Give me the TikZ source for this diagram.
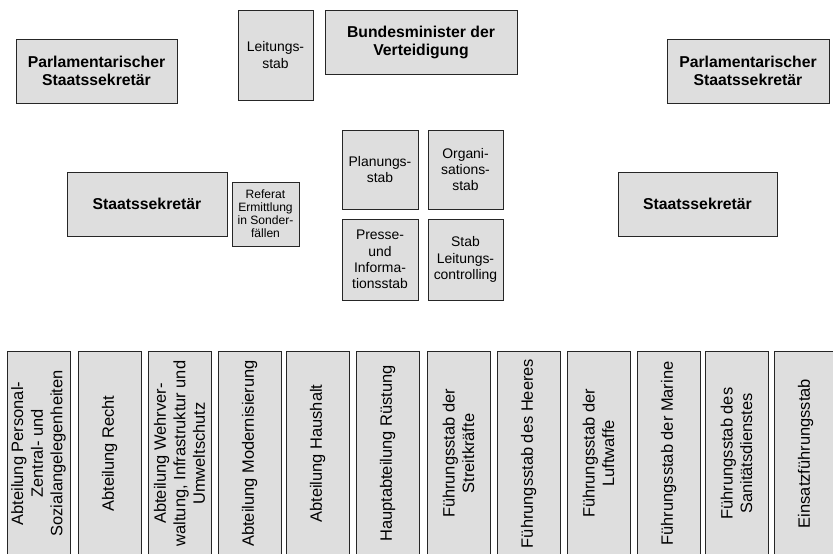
\documentclass[tikz,border=0pt]{standalone}
\usepackage{fontspec}
\setmainfont{Liberation Sans}
\usetikzlibrary{positioning}

\tikzset{
  box/.style={draw=black!85, line width=0.6pt, fill=gray!26, align=center, inner sep=1pt},
  chief/.style={box, font=\bfseries\fontsize{11.2}{12.8}\selectfont},
  staff/.style={box, font=\fontsize{9.9}{11.7}\selectfont},
  dept/.style={box, rotate=90, font=\fontsize{11.7}{13.9}\selectfont,
    minimum width=5.125cm, minimum height=1.575cm}
}

\begin{document}
\begin{tikzpicture}[x=0.025cm, y=-0.025cm]
    \useasboundingbox (0,0) rectangle (833,553);
    % Leitung
    \node[chief, minimum width=4.025cm, minimum height=1.6cm] (parlL) at (96.5,71) {Parlamentarischer\\Staatssekretär};
    \node[staff, minimum width=1.875cm, minimum height=2.25cm] (leitung) at (275.5,55) {Leitungs-\\stab};
    \node[chief, minimum width=4.8cm, minimum height=1.6cm] (minister) at (421,42) {Bundesminister der\\Verteidigung};
    \node[chief, minimum width=4.05cm, minimum height=1.6cm] (parlR) at (748,71) {Parlamentarischer\\Staatssekretär};
    \node[chief, minimum width=4cm, minimum height=1.6cm] (staatsL) at (147,204) {Staatssekretär};
    \node[staff, font=\fontsize{8.6}{9.3}\selectfont, minimum width=1.675cm, minimum height=1.6cm] (referat) at (265.5,214) {Referat\\Ermittlung\\in Sonder-\\fällen};
    \node[chief, minimum width=3.975cm, minimum height=1.6cm] (staatsR) at (697.5,204) {Staatssekretär};
    % Stäbe
    \node[staff, minimum width=1.9cm, minimum height=1.975cm] (planung) at (380,169.5) {Planungs-\\stab};
    \node[staff, minimum width=1.875cm, minimum height=1.975cm] (orga) at (465.5,169.5) {Organi-\\sations-\\stab};
    \node[staff, minimum width=1.9cm, minimum height=2.025cm] (presse) at (380,259.5) {Presse-\\und\\Informa-\\tionsstab};
    \node[staff, minimum width=1.875cm, minimum height=2.025cm] (control) at (465.5,259.5) {Stab\\Leitungs-\\controlling};
    % Abteilungen und Führungsstäbe
    \foreach \x/\name/\txt in {
        7/abtP/{Abteilung Personal-\\Zentral- und\\Sozialangelegenheiten},
        78/abtR/{Abteilung Recht},
        148/abtW/{Abteilung Wehrver-\\waltung, Infrastruktur und\\Umweltschutz},
        218/abtM/{Abteilung Modernisierung},
        286/abtH/{Abteilung Haushalt},
        356/hauptR/{Hauptabteilung Rüstung},
        427/fueS/{Führungsstab der\\Streitkräfte},
        497/fueH/{Führungsstab des Heeres},
        567/fueL/{Führungsstab der\\Luftwaffe},
        637/fueM/{Führungsstab der Marine},
        705/fueSan/{Führungsstab des\\Sanitätsdienstes},
        774/einsatz/{Einsatzführungsstab}}
      \node[dept] (\name) at (\x+31.5,453.5) {\txt};
\end{tikzpicture}
\end{document}
